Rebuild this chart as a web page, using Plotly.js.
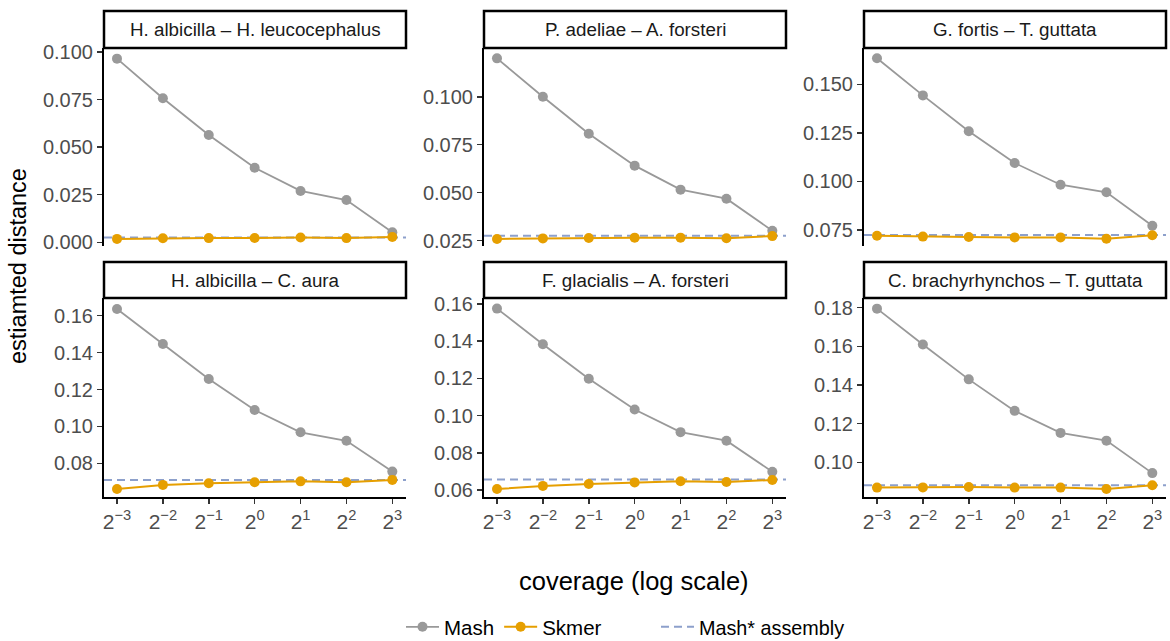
<!DOCTYPE html>
<html>
<head>
<meta charset="utf-8">
<script src="https://cdn.plot.ly/plotly-3.0.1.min.js"></script>
<style>html,body{margin:0;padding:0;background:#fff;overflow:hidden;}#wrap{width:1170px;height:641px;overflow:hidden;}#chart{width:1170px;height:651px;}</style>
</head>
<body>
<div id="wrap"><div id="chart"></div></div>
<script>
// ---- data ----
const coverage = [0.125, 0.25, 0.5, 1, 2, 4, 8];
const coverageTickText = ['2<sup>−3</sup>', '2<sup>−2</sup>', '2<sup>−1</sup>', '2<sup>0</sup>', '2<sup>1</sup>', '2<sup>2</sup>', '2<sup>3</sup>'];
const pairNames = [
  'H. albicilla – H. leucocephalus',
  'P. adeliae – A. forsteri',
  'G. fortis – T. guttata',
  'H. albicilla – C. aura',
  'F. glacialis – A. forsteri',
  'C. brachyrhynchos – T. guttata'
];
const mash1 = [0.0965, 0.0757, 0.0564, 0.0392, 0.0270, 0.0222, 0.0053];
const mash2 = [0.1200, 0.1000, 0.0807, 0.0641, 0.0516, 0.0469, 0.0302];
const mash3 = [0.1634, 0.1443, 0.1258, 0.1095, 0.0983, 0.0944, 0.0772];
const mash4 = [0.1636, 0.1447, 0.1257, 0.1089, 0.0968, 0.0922, 0.0755];
const mash5 = [0.1575, 0.1383, 0.1198, 0.1033, 0.0911, 0.0865, 0.0698];
const mash6 = [0.1795, 0.1609, 0.1429, 0.1266, 0.1152, 0.1112, 0.0944];
const skmer1 = [0.0018, 0.0021, 0.0022, 0.0023, 0.0025, 0.0022, 0.0028];
const skmer2 = [0.0259, 0.0262, 0.0264, 0.0266, 0.0266, 0.0263, 0.0274];
const skmer3 = [0.0720, 0.0716, 0.0714, 0.0712, 0.0712, 0.0705, 0.0723];
const skmer4 = [0.0661, 0.0683, 0.0692, 0.0697, 0.0702, 0.0697, 0.0710];
const skmer5 = [0.0605, 0.0622, 0.0632, 0.0641, 0.0647, 0.0643, 0.0654];
const skmer6 = [0.0869, 0.0870, 0.0872, 0.0869, 0.0869, 0.0862, 0.0881];
const assemblyMash = [0.0025, 0.0276, 0.0724, 0.0710, 0.0656, 0.0881];
const yTickVals1 = [0, 0.025, 0.05, 0.075, 0.1];
const yTickVals2 = [0.025, 0.05, 0.075, 0.1];
const yTickVals3 = [0.075, 0.1, 0.125, 0.15];
const yTickVals4 = [0.08, 0.10, 0.12, 0.14, 0.16];
const yTickVals5 = [0.06, 0.08, 0.10, 0.12, 0.14, 0.16];
const yTickVals6 = [0.10, 0.12, 0.14, 0.16, 0.18];

const mashSeries = [mash1, mash2, mash3, mash4, mash5, mash6];
const skmerSeries = [skmer1, skmer2, skmer3, skmer4, skmer5, skmer6];
const yTickSets = [yTickVals1, yTickVals2, yTickVals3, yTickVals4, yTickVals5, yTickVals6];

// ---- styling / layout ----
const W = 1170, H = 651;   // drawn slightly taller; the visible window is 641px
const FONT = 'Liberation Sans, Arial, Helvetica, sans-serif';
const cMash = '#999999', cSkmer = '#E69F00', cAsm = '#8DA0CB';
const xDom = [[104, 406], [484, 786], [864, 1166]];
const yDom = [[48, 246], [298, 497]];
const stripY = [[11, 48], [262, 298]];
const yRanges = [[-0.00194, 0.1021], [0.02224, 0.1254], [0.06676, 0.1687],
                 [0.06173, 0.1696], [0.05624, 0.1632], [0.08204, 0.1850]];
const yFormats = ['.3f', '.3f', '.3f', '.2f', '.2f', '.2f'];
const xRangeLog = [-3.283 * Math.LOG10E * Math.LN2, 3.298 * Math.LOG10E * Math.LN2];

const traces = [];
const layout = {
  width: W, height: H,
  margin: {l: 0, r: 0, t: 0, b: 0},
  paper_bgcolor: '#ffffff', plot_bgcolor: 'rgba(0,0,0,0)',
  font: {family: FONT, color: '#000'},
  showlegend: true,
  shapes: [], annotations: [],
  legend: {orientation: 'h', x: 401 / W, xanchor: 'left', y: 1 - 627 / H, yanchor: 'middle',
           font: {family: FONT, size: 20.5, color: '#000'}, bgcolor: 'rgba(0,0,0,0)',
           tracegroupgap: 0, itemwidth: 33},
  legend2: {orientation: 'h', x: 656 / W, xanchor: 'left', y: 1 - 627 / H, yanchor: 'middle',
            font: {family: FONT, size: 19.8, color: '#000'}, bgcolor: 'rgba(0,0,0,0)', itemwidth: 33}
};

for (let i = 0; i < 6; i++) {
  const row = Math.floor(i / 3), col = i % 3;
  const n = i + 1;
  const xa = 'x' + (n === 1 ? '' : n), ya = 'y' + (n === 1 ? '' : n);
  const xKey = 'xaxis' + (n === 1 ? '' : n), yKey = 'yaxis' + (n === 1 ? '' : n);
  const bottom = row === 1;
  layout[xKey] = {
    domain: [xDom[col][0] / W, xDom[col][1] / W], anchor: ya, type: 'log',
    range: xRangeLog, tickvals: coverage, ticktext: coverageTickText,
    showticklabels: bottom, ticks: bottom ? 'outside' : '', ticklen: 5, tickwidth: 1.5, tickcolor: '#333',
    showline: bottom, linecolor: '#000', linewidth: 2, showgrid: false, zeroline: false,
    tickfont: {family: FONT, size: 21, color: '#4D4D4D'}, fixedrange: true
  };
  layout[yKey] = {
    domain: [1 - yDom[row][1] / H, 1 - yDom[row][0] / H], anchor: xa,
    range: yRanges[i], tickmode: 'array', tickvals: yTickSets[i],
    ticktext: yTickSets[i].map(v => v.toFixed(yFormats[i] === '.3f' ? 3 : 2)),
    ticks: 'outside', ticklen: 5, tickwidth: 1.5, tickcolor: '#333',
    showline: true, linecolor: '#000', linewidth: 2, showgrid: false, zeroline: false,
    tickfont: {family: FONT, size: 20, color: '#4D4D4D'}, fixedrange: true
  };
  // assembly reference line
  layout.shapes.push({type: 'line', xref: xa + ' domain', yref: ya, x0: 0, x1: 1,
    y0: assemblyMash[i], y1: assemblyMash[i], layer: 'below',
    line: {color: cAsm, width: 2, dash: '8px,5px'}});
  // strip box
  layout.shapes.push({type: 'rect', xref: 'paper', yref: 'paper',
    x0: xDom[col][0] / W, x1: xDom[col][1] / W,
    y0: 1 - stripY[row][1] / H, y1: 1 - stripY[row][0] / H,
    fillcolor: '#ffffff', line: {color: '#000', width: 2.5}});
  layout.annotations.push({xref: 'paper', yref: 'paper',
    x: (xDom[col][0] + xDom[col][1]) / 2 / W, y: 1 - (stripY[row][0] + stripY[row][1]) / 2 / H,
    xanchor: 'center', yanchor: 'middle', showarrow: false, text: pairNames[i],
    font: {family: FONT, size: 18.8, color: '#1A1A1A'}});

  traces.push({type: 'scatter', mode: 'lines+markers', x: coverage, y: mashSeries[i],
    xaxis: xa, yaxis: ya, name: 'Mash', legendgroup: 'mash', showlegend: i === 0, legend: 'legend',
    line: {color: cMash, width: 1.8}, marker: {color: cMash, size: 10}, cliponaxis: false});
  traces.push({type: 'scatter', mode: 'lines+markers', x: coverage, y: skmerSeries[i],
    xaxis: xa, yaxis: ya, name: 'Skmer', legendgroup: 'skmer', showlegend: i === 0, legend: 'legend',
    line: {color: cSkmer, width: 2}, marker: {color: cSkmer, size: 10}, cliponaxis: false});
}
// legend entry for the assembly line
traces.push({type: 'scatter', mode: 'lines', x: [null], y: [null], xaxis: 'x', yaxis: 'y',
  name: 'Mash* assembly', legend: 'legend2', line: {color: cAsm, width: 2, dash: '8px,5px'}});

// axis titles
layout.annotations.push({xref: 'paper', yref: 'paper', x: 634 / W, y: 1 - 581 / H,
  xanchor: 'center', yanchor: 'middle', showarrow: false, text: 'coverage (log scale)',
  font: {family: FONT, size: 25.5, color: '#000'}});
layout.annotations.push({xref: 'paper', yref: 'paper', x: 18 / W, y: 1 - 266 / H,
  xanchor: 'center', yanchor: 'middle', showarrow: false, text: 'estiamted distance', textangle: -90,
  font: {family: FONT, size: 23.5, color: '#000'}});

Plotly.newPlot('chart', traces, layout, {displayModeBar: false, staticPlot: true});
</script>
</body>
</html>
